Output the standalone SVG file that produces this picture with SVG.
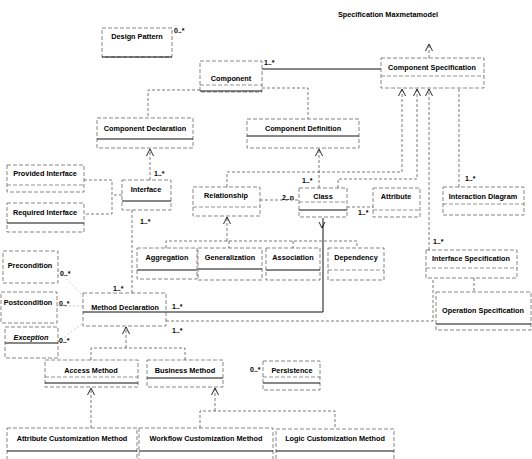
<svg xmlns="http://www.w3.org/2000/svg" width="532" height="459" viewBox="0 0 532 459">
  <style>
    .frame { fill: #fff; stroke: #555; stroke-width: 0.7; stroke-dasharray: 4 2; }
    .sep { stroke: #111; stroke-width: 1.2; }
    .sep2 { stroke: #666; stroke-width: 0.7; stroke-dasharray: 4 2; }
    .name { font-family: "Liberation Sans", Arial, sans-serif; font-size: 7.3px; font-weight: bold; fill: #000; text-anchor: middle; }
    .it { font-style: italic; }
    .mult { font-family: "Liberation Sans", Arial, sans-serif; font-size: 7px; font-weight: bold; fill: #000; }
    .title { font-family: "Liberation Sans", Arial, sans-serif; font-size: 7.3px; font-weight: bold; fill: #000; text-anchor: middle; }
    .conn { fill: none; stroke: #444; stroke-width: 0.7; stroke-dasharray: 3 2; }
    .solid { fill: none; stroke: #111; stroke-width: 1; }
    .faint { fill: none; stroke: #aaa; stroke-width: 0.6; stroke-dasharray: 2 2; }
    .head { fill: none; stroke: #111; stroke-width: 0.9; }
  </style>
  <defs>
    <marker id="open" markerWidth="8" markerHeight="8" refX="7" refY="4" orient="auto-start-reverse" markerUnits="userSpaceOnUse">
      <path d="M0,0.5 L7,4 L0,7.5" fill="none" stroke="#111" stroke-width="0.9"/>
    </marker>
  </defs>

  <text class="title" x="388" y="17">Specification Maxmetamodel</text>

  <!-- connectors -->
  <g id="connectors">
    <path class="solid" d="M262,69 H381"/>
    <path class="conn" d="M200,90 H148 V118"/>
    <path class="conn" d="M262,88 H308 V119"/>
    <path class="conn" d="M429,58 V44" marker-end="url(#open)"/>
    <path class="conn" d="M227,187 V172 H402 V89" marker-end="url(#open)"/>
    <path class="conn" d="M338,188 V179 H417 V89" marker-end="url(#open)"/>
    <path class="conn" d="M429,250 V89" marker-end="url(#open)"/>
    <path class="conn" d="M459,187 V88"/>
    <path class="conn" d="M319,188 V149" marker-end="url(#open)"/>
    <path class="conn" d="M150,180 V149" marker-end="url(#open)"/>
    <path class="conn" d="M122,195 H112 M84,180 H112 V214 H84"/>
    <path class="conn" d="M260,200 H299"/>
    <path class="conn" d="M347,207 H373"/>
    <path class="conn" d="M227,241 V217" marker-end="url(#open)"/>
    <path class="conn" d="M166,248 V241 H357 V248 M229,241 V248 M293,241 V248"/>
    <path class="solid" d="M166,312 H323 V218"/>
    <path class="head" d="M319,222 L322,228 L325,222"/>
    <path class="conn" d="M166,321 H433 V279"/>
    <path class="conn" d="M474,278 V292"/>
    <path class="conn" d="M132,210 V293"/>
    <path class="faint" d="M58,270 L83,296 M57,306 H83 M58,342 L83,323"/>
    <path class="conn" d="M126,348 V327" marker-end="url(#open)"/>
    <path class="conn" d="M91,360 V348 H185 V360"/>
    <path class="conn" d="M91,428 V388" marker-end="url(#open)"/>
    <path class="conn" d="M215,411 V388" marker-end="url(#open)"/>
    <path class="conn" d="M200,428 V411 H335 V429"/>
  </g>

  <!-- multiplicities -->
  <g id="labels">
    <text class="mult" x="174" y="33">0..*</text>
    <text class="mult" x="264" y="65">1..*</text>
    <text class="mult" x="154" y="176">1..*</text>
    <text class="mult" x="140" y="224">1..*</text>
    <text class="mult" x="282" y="200">2..n</text>
    <text class="mult" x="302" y="183">1..*</text>
    <text class="mult" x="358" y="215">1..*</text>
    <text class="mult" x="465" y="181">1..*</text>
    <text class="mult" x="433" y="244">1..*</text>
    <text class="mult" x="60" y="276">0..*</text>
    <text class="mult" x="59" y="306">0..*</text>
    <text class="mult" x="59" y="343">0..*</text>
    <text class="mult" x="113" y="291">1..*</text>
    <text class="mult" x="172" y="309">1..*</text>
    <text class="mult" x="172" y="333">1..*</text>
    <text class="mult" x="250" y="372">0..*</text>
  </g>

  <!-- classes -->
  <g id="design-pattern">
    <rect class="frame" x="102" y="28" width="70" height="29"/>
    <line class="sep" x1="102" y1="57" x2="172" y2="57"/>
    <text class="name" x="137" y="39">Design Pattern</text>
  </g>
  <g id="component">
    <rect class="frame" x="200" y="61" width="62" height="31"/>
    <line class="sep2" x1="200" y1="85" x2="262" y2="85"/>
    <line class="sep" x1="200" y1="91" x2="262" y2="91"/>
    <text class="name" x="231" y="81">Component</text>
  </g>
  <g id="component-specification">
    <rect class="frame" x="381" y="58" width="103" height="30"/>
    <line class="sep2" x1="381" y1="76" x2="484" y2="76"/>
    <text class="name" x="432" y="70">Component Specification</text>
  </g>
  <g id="component-declaration">
    <rect class="frame" x="97" y="118" width="96" height="30"/>
    <line class="sep" x1="97" y1="139" x2="193" y2="139"/>
    <text class="name" x="145" y="131">Component Declaration</text>
  </g>
  <g id="component-definition">
    <rect class="frame" x="247" y="119" width="112" height="29"/>
    <line class="sep" x1="247" y1="136" x2="359" y2="136"/>
    <text class="name" x="303" y="131">Component Definition</text>
  </g>
  <g id="provided-interface">
    <rect class="frame" x="7" y="165" width="77" height="27"/>
    <line class="sep2" x1="7" y1="185" x2="84" y2="185"/>
    <text class="name" x="45" y="176">Provided Interface</text>
  </g>
  <g id="required-interface">
    <rect class="frame" x="7" y="203" width="77" height="29"/>
    <line class="sep" x1="7" y1="223" x2="84" y2="223"/>
    <text class="name" x="45" y="215">Required Interface</text>
  </g>
  <g id="interface">
    <rect class="frame" x="122" y="180" width="49" height="30"/>
    <line class="sep" x1="122" y1="201" x2="171" y2="201"/>
    <text class="name" x="146" y="192">Interface</text>
  </g>
  <g id="relationship">
    <rect class="frame" x="193" y="187" width="67" height="29"/>
    <line class="sep2" x1="193" y1="207" x2="260" y2="207"/>
    <text class="name" x="226" y="198">Relationship</text>
  </g>
  <g id="class">
    <rect class="frame" x="299" y="188" width="48" height="29"/>
    <line class="sep2" x1="299" y1="202" x2="347" y2="202"/>
    <line class="sep" x1="299" y1="210" x2="347" y2="210"/>
    <text class="name" x="323" y="199">Class</text>
  </g>
  <g id="attribute">
    <rect class="frame" x="373" y="188" width="47" height="29"/>
    <line class="sep2" x1="373" y1="210" x2="420" y2="210"/>
    <text class="name" x="396" y="199">Attribute</text>
  </g>
  <g id="interaction-diagram">
    <rect class="frame" x="443" y="187" width="81" height="28"/>
    <line class="sep2" x1="443" y1="204" x2="524" y2="204"/>
    <text class="name" x="483" y="199">Interaction Diagram</text>
  </g>
  <g id="aggregation">
    <rect class="frame" x="137" y="248" width="60" height="31"/>
    <line class="sep" x1="137" y1="270" x2="197" y2="270"/>
    <text class="name" x="167" y="260">Aggregation</text>
  </g>
  <g id="generalization">
    <rect class="frame" x="198" y="248" width="64" height="32"/>
    <line class="sep" x1="198" y1="269" x2="262" y2="269"/>
    <text class="name" x="230" y="260">Generalization</text>
  </g>
  <g id="association">
    <rect class="frame" x="266" y="248" width="54" height="32"/>
    <line class="sep" x1="266" y1="270" x2="320" y2="270"/>
    <text class="name" x="293" y="260">Association</text>
  </g>
  <g id="dependency">
    <rect class="frame" x="328" y="248" width="56" height="32"/>
    <line class="sep2" x1="328" y1="270" x2="384" y2="270"/>
    <text class="name" x="356" y="260">Dependency</text>
  </g>
  <g id="interface-specification">
    <rect class="frame" x="426" y="250" width="91" height="28"/>
    <line class="sep2" x1="426" y1="268" x2="517" y2="268"/>
    <text class="name" x="471" y="261">Interface Specification</text>
  </g>
  <g id="operation-specification">
    <rect class="frame" x="436" y="292" width="95" height="38"/>
    <line class="sep" x1="436" y1="324" x2="531" y2="324"/>
    <text class="name" x="483" y="313">Operation Specification</text>
  </g>
  <g id="precondition">
    <rect class="frame" x="3" y="251" width="55" height="32"/>
    <text class="name" x="30" y="268">Precondition</text>
  </g>
  <g id="postcondition">
    <rect class="frame" x="1" y="292" width="56" height="31"/>
    <text class="name" x="28" y="305">Postcondition</text>
  </g>
  <g id="exception">
    <rect class="frame" x="5" y="327" width="53" height="31"/>
    <line class="sep" x1="5" y1="343" x2="58" y2="343"/>
    <text class="name it" x="31" y="340">Exception</text>
  </g>
  <g id="method-declaration">
    <rect class="frame" x="83" y="293" width="83" height="33"/>
    <line class="sep" x1="83" y1="312" x2="166" y2="312"/>
    <text class="name" x="125" y="310">Method Declaration</text>
  </g>
  <g id="access-method">
    <rect class="frame" x="45" y="360" width="93" height="27"/>
    <line class="sep2" x1="45" y1="377" x2="138" y2="377"/>
    <line class="sep" x1="45" y1="383" x2="138" y2="383"/>
    <text class="name" x="91" y="373">Access Method</text>
  </g>
  <g id="business-method">
    <rect class="frame" x="147" y="360" width="76" height="27"/>
    <line class="sep" x1="147" y1="378" x2="223" y2="378"/>
    <text class="name" x="185" y="373">Business Method</text>
  </g>
  <g id="persistence">
    <rect class="frame" x="263" y="361" width="57" height="29"/>
    <line class="sep2" x1="263" y1="377" x2="320" y2="377"/>
    <line class="sep" x1="263" y1="383" x2="320" y2="383"/>
    <text class="name" x="292" y="373">Persistence</text>
  </g>
  <g id="attribute-customization-method">
    <rect class="frame" x="7" y="428" width="130" height="36"/>
    <line class="sep" x1="7" y1="451" x2="137" y2="451"/>
    <text class="name" x="72" y="441">Attribute Customization Method</text>
  </g>
  <g id="workflow-customization-method">
    <rect class="frame" x="139" y="428" width="134" height="36"/>
    <line class="sep" x1="139" y1="451" x2="273" y2="451"/>
    <text class="name" x="206" y="441">Workflow Customization Method</text>
  </g>
  <g id="logic-customization-method">
    <rect class="frame" x="276" y="429" width="118" height="35"/>
    <line class="sep" x1="276" y1="451" x2="394" y2="451"/>
    <text class="name" x="335" y="441">Logic Customization Method</text>
  </g>
</svg>
